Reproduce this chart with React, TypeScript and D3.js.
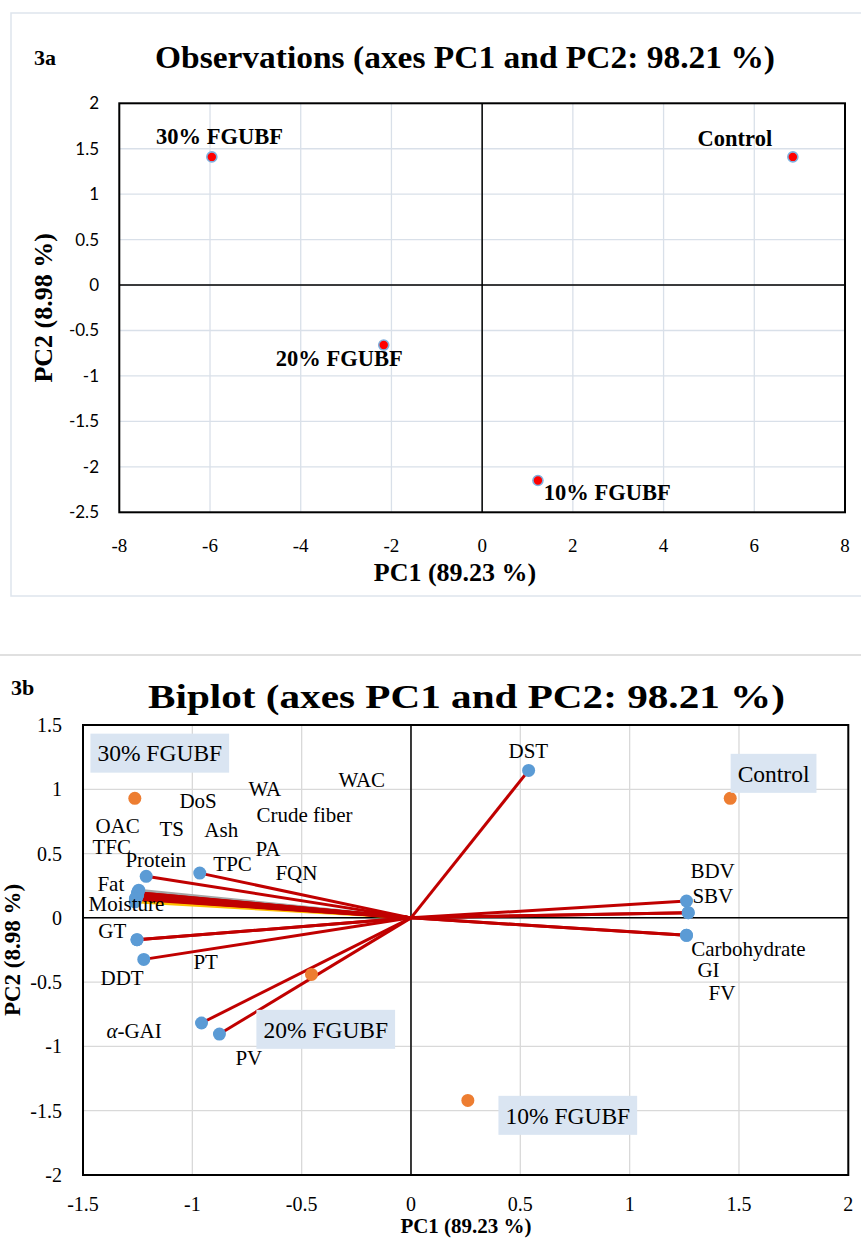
import React from 'react';
import * as d3 from 'd3';

const W = 861;
const H = 1241;
const SERIF = '"Liberation Serif", "Times New Roman", serif';
const SANS = 'Lato, "Noto Sans", sans-serif';

// ---- 3a: observations ----
const obsNames = ['Control', '10% FGUBF', '20% FGUBF', '30% FGUBF'];
const obsPC1 = [6.85, 1.23, -2.17, -5.96];
const obsPC2 = [1.41, -2.15, -0.66, 1.41];
const obsLabelX = [4.75, 1.36, -4.55, -7.19];
const obsLabelY = [1.62, -2.28, -0.8, 1.64];
const aTicksX = [-8, -6, -4, -2, 0, 2, 4, 6, 8];
const aTicksY = [-2.5, -2, -1.5, -1, -0.5, 0, 0.5, 1, 1.5, 2];

// ---- 3b: biplot ----
const bObsPC1 = [1.46, 0.26, -0.455, -1.263];
const bObsPC2 = [0.93, -1.42, -0.44, 0.93];
const bObsLabelX = [1.494, 0.432, -0.675, -1.434];
const bObsLabelY = [1.124, -1.536, -0.867, 1.281];

const varNames = ['WAC', 'WA', 'DoS', 'Crude fiber', 'OAC', 'TS', 'Ash', 'TFC', 'PA', 'Protein', 'TPC', 'FQN',
  'Fat', 'Moisture', 'GT', 'PT', 'DDT', 'α-GAI', 'PV', 'DST', 'BDV', 'SBV', 'Carbohydrate', 'GI', 'FV'];
const varPC1 = [-1.252, -1.245, -1.25, -1.262, -1.25, -1.252, -1.255, -1.25, -1.257, -1.211, -0.966, -1.26,
  -1.25, -1.26, -1.253, -1.253, -1.222, -0.958, -0.876, 0.538, 1.26, 1.268, 1.26, 1.26, 1.268];
const varPC2 = [0.175, 0.215, 0.18, 0.125, 0.19, 0.17, 0.16, 0.195, 0.15, 0.323, 0.348, 0.145,
  0.196, 0.152, -0.17, -0.17, -0.323, -0.818, -0.904, 1.147, 0.131, 0.04, -0.136, -0.136, 0.04];
const varLabelX = [-0.332, -0.743, -1.059, -0.707, -1.443, -1.15, -0.945, -1.457, -0.711, -1.306, -0.904, -0.62,
  -1.434, -1.475, -1.43, -0.995, -1.42, -1.393, -0.803, 0.446, 1.278, 1.287, 1.282, 1.31, 1.361];
const varLabelY = [1.077, 1.007, 0.914, 0.805, 0.719, 0.696, 0.688, 0.556, 0.54, 0.455, 0.424, 0.354,
  0.268, 0.113, -0.097, -0.339, -0.463, -0.875, -1.085, 1.302, 0.369, 0.175, -0.237, -0.4, -0.579];
const grayVars = ['WA'];
const goldVars = ['Crude fiber'];
const bTicksX = [-1.5, -1, -0.5, 0, 0.5, 1, 1.5, 2];
const bTicksY = [-2, -1.5, -1, -0.5, 0, 0.5, 1, 1.5];

const measure = (s: string, font: string) => {
  const ctx = document.createElement('canvas').getContext('2d');
  if (!ctx) return s.length * 12;
  ctx.font = font;
  return ctx.measureText(s).width;
};

const xA = d3.scaleLinear().domain([-8, 8]).range([119.3, 845]);
const yA = d3.scaleLinear().domain([-2.5, 2]).range([512.3, 103.3]);
const xB = d3.scaleLinear().domain([-1.5, 2]).range([83, 848.3]);
const yB = d3.scaleLinear().domain([-2, 1.5]).range([1175, 725]);

const lineColor = (name: string) =>
  grayVars.includes(name) ? '#a5a5a5' : goldVars.includes(name) ? '#ffc000' : '#c00000';

const PanelA = () => {
  const [x0, x1] = xA.range();
  const [y0, y1] = yA.range();
  return (
    <g>
      <rect x={11} y={13} width={W + 10} height={583} fill="none" stroke="#dee5ed" strokeWidth={1.5} />
      <text x={34} y={57} dy="0.35em" fontFamily={SERIF} fontWeight="bold" fontSize={22}>3a</text>
      <text x={155} y={57} dy="0.35em" fontFamily={SERIF} fontWeight="bold" fontSize={31}
        textLength={620} lengthAdjust="spacingAndGlyphs">
        Observations (axes PC1 and PC2: 98.21 %)
      </text>
      {aTicksX.map(t => (
        <line key={'gx' + t} x1={xA(t)} x2={xA(t)} y1={y1} y2={y0} stroke="#d9e0e9" strokeWidth={1.3} />
      ))}
      {aTicksY.map(t => (
        <line key={'gy' + t} x1={x0} x2={x1} y1={yA(t)} y2={yA(t)} stroke="#d9e0e9" strokeWidth={1.3} />
      ))}
      <line x1={xA(0)} x2={xA(0)} y1={y1} y2={y0} stroke="#000" strokeWidth={1.5} />
      <line x1={x0} x2={x1} y1={yA(0)} y2={yA(0)} stroke="#000" strokeWidth={1.5} />
      <rect x={x0} y={y1} width={x1 - x0} height={y0 - y1} fill="none" stroke="#000" strokeWidth={2} />
      {aTicksY.map(t => (
        <text key={'ty' + t} x={99} y={yA(t)} dy="0.35em" textAnchor="end" fontFamily={SANS} fontSize={17}>{t}</text>
      ))}
      {aTicksX.map(t => (
        <text key={'tx' + t} x={xA(t)} y={545} dy="0.35em" textAnchor="middle" fontFamily={SERIF} fontSize={19}>{t}</text>
      ))}
      <text x={455} y={572} dy="0.35em" textAnchor="middle" fontFamily={SERIF} fontWeight="bold" fontSize={26}>PC1 (89.23 %)</text>
      <text transform={`translate(43,${(y0 + y1) / 2}) rotate(-90)`} dy="0.35em" textAnchor="middle"
        fontFamily={SERIF} fontWeight="bold" fontSize={26}>PC2 (8.98 %)</text>
      {obsNames.map((n, i) => (
        <circle key={'p' + n} cx={xA(obsPC1[i])} cy={yA(obsPC2[i])} r={5} fill="#ff0000" stroke="#7fb0de" strokeWidth={1.6} />
      ))}
      {obsNames.map((n, i) => (
        <text key={'l' + n} x={xA(obsLabelX[i])} y={yA(obsLabelY[i])} dy="0.35em" fontFamily={SERIF} fontWeight="bold" fontSize={22.5}>{n}</text>
      ))}
    </g>
  );
};

const PanelB = () => {
  const [x0, x1] = xB.range();
  const [y0, y1] = yB.range();
  const boxFont = `23.5px ${SERIF}`;
  const order = varNames.map((n, i) => i).sort((a, b) => {
    const ra = lineColor(varNames[a]) === '#c00000' ? 1 : 0;
    const rb = lineColor(varNames[b]) === '#c00000' ? 1 : 0;
    return ra - rb;
  });
  return (
    <g>
      <line x1={0} x2={W} y1={655} y2={655} stroke="#e0e0e0" strokeWidth={2} />
      <text x={11} y={687} dy="0.35em" fontFamily={SERIF} fontWeight="bold" fontSize={22}>3b</text>
      <text x={148} y={696} dy="0.35em" fontFamily={SERIF} fontWeight="bold" fontSize={33}
        textLength={637} lengthAdjust="spacingAndGlyphs">
        Biplot (axes PC1 and PC2: 98.21 %)
      </text>
      {bTicksX.map(t => (
        <line key={'gx' + t} x1={xB(t)} x2={xB(t)} y1={y1} y2={y0} stroke="#d9d9d9" strokeWidth={1.3} />
      ))}
      {bTicksY.map(t => (
        <line key={'gy' + t} x1={x0} x2={x1} y1={yB(t)} y2={yB(t)} stroke="#d9d9d9" strokeWidth={1.3} />
      ))}
      <line x1={xB(0)} x2={xB(0)} y1={y1} y2={y0} stroke="#000" strokeWidth={1.5} />
      <line x1={x0} x2={x1} y1={yB(0)} y2={yB(0)} stroke="#000" strokeWidth={1.5} />
      <rect x={x0} y={y1} width={x1 - x0} height={y0 - y1} fill="none" stroke="#000" strokeWidth={2} />
      {bTicksY.map(t => (
        <text key={'ty' + t} x={62} y={yB(t)} dy="0.35em" textAnchor="end" fontFamily={SERIF} fontSize={20}>{t}</text>
      ))}
      {bTicksX.map(t => (
        <text key={'tx' + t} x={xB(t)} y={1204} dy="0.35em" textAnchor="middle" fontFamily={SERIF} fontSize={20}>{t}</text>
      ))}
      <text x={466} y={1226} dy="0.35em" textAnchor="middle" fontFamily={SERIF} fontWeight="bold" fontSize={21}>PC1 (89.23 %)</text>
      <text transform={`translate(12,${(y0 + y1) / 2}) rotate(-90)`} dy="0.35em" textAnchor="middle"
        fontFamily={SERIF} fontWeight="bold" fontSize={23}>PC2 (8.98 %)</text>
      {order.map(i => (
        <line key={'v' + varNames[i]} x1={xB(0)} y1={yB(0)} x2={xB(varPC1[i])} y2={yB(varPC2[i])}
          stroke={lineColor(varNames[i])} strokeWidth={3} />
      ))}
      {varNames.map((n, i) => (
        <circle key={'vp' + n} cx={xB(varPC1[i])} cy={yB(varPC2[i])} r={6.5} fill="#5b9bd5" />
      ))}
      {obsNames.map((n, i) => (
        <circle key={'op' + n} cx={xB(bObsPC1[i])} cy={yB(bObsPC2[i])} r={6.5} fill="#ed7d31" />
      ))}
      {varNames.map((n, i) => (
        <text key={'vl' + n} x={xB(varLabelX[i])} y={yB(varLabelY[i])} dy="0.35em" fontFamily={SERIF} fontSize={21}>
          {n === 'α-GAI' ? <><tspan fontStyle="italic">α</tspan>-GAI</> : n}
        </text>
      ))}
      {obsNames.map((n, i) => {
        const w = measure(n, boxFont);
        const tx = xB(bObsLabelX[i]);
        const ty = yB(bObsLabelY[i]);
        return (
          <g key={'ob' + n}>
            <rect x={tx - 7} y={ty - 19.5} width={w + 14} height={39} fill="#dae5f2" />
            <text x={tx} y={ty} dy="0.35em" fontFamily={SERIF} fontSize={23.5}>{n}</text>
          </g>
        );
      })}
    </g>
  );
};

export default function App() {
  return (
    <svg width={W} height={H} viewBox={`0 0 ${W} ${H}`}
      style={{ position: 'absolute', left: 0, top: 0, background: '#fff' }}>
      <rect width={W} height={H} fill="#fff" />
      <PanelA />
      <PanelB />
    </svg>
  );
}
